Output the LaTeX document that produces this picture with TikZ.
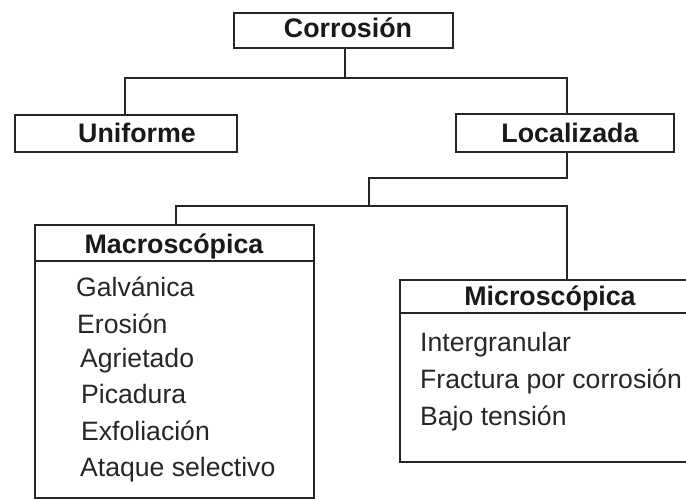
\documentclass[tikz,border=0pt]{standalone}
\usepackage{fontspec}
\setmainfont{Liberation Sans}
\begin{document}
\begin{tikzpicture}[x=1pt,y=-1pt,
  line/.style={draw=black!85,line width=2.2pt},
  boxline/.style={draw=black!85,line width=2.2pt},
  title/.style={font=\fontsize{26.8}{30}\selectfont\bfseries,inner sep=0pt,anchor=base,text=black!90},
  item/.style={font=\fontsize{26.6}{30}\selectfont,inner sep=0pt,anchor=base west,text=black!85}]
\useasboundingbox (0,0) rectangle (686,500);
\clip (0,0) rectangle (686,500);
% boxes
\draw[boxline] (234,13) rectangle (453,48);
\draw[boxline] (15,115) rectangle (237,152);
\draw[boxline] (456,114) rectangle (674,152);
\draw[boxline] (35,225) rectangle (314,498);
\draw[boxline] (35,261) -- (314,261);
\draw[boxline] (690,280) -- (400,280) -- (400,462) -- (690,462);
\draw[boxline] (400,313) -- (690,313);
% titles
\node[title] (corr) at (348,38) {Corrosión};
\node[title] (unif) at (137,143) {Uniforme};
\node[title] (loc) at (570,143) {Localizada};
\node[title] (mac) at (174,254) {Macroscópica};
\node[title] (mic) at (550,305) {Microscópica};
% connector points
\coordinate (c0) at (345,48);
\coordinate (c1) at (345,78);
\coordinate (u0) at (125,78);
\coordinate (u1) at (125,115);
\coordinate (l0) at (567,78);
\coordinate (l1) at (567,114);
\coordinate (l2) at (567,152);
\coordinate (l3) at (567,178);
\coordinate (l4) at (369,178);
\coordinate (l5) at (369,206);
\coordinate (m0) at (176,206);
\coordinate (m1) at (176,225);
\coordinate (n0) at (567,206);
\coordinate (n1) at (567,280);
\draw[line] (c0) -- (c1);
\draw[line] (u1) -- (u0) -- (l0) -- (l1);
\draw[line] (l2) -- (l3) -- (l4) -- (l5);
\draw[line] (m1) -- (m0) -- (n0) -- (n1);
% items
\node[item] (g1) at (76,296) {Galvánica};
\node[item] (g2) at (77,333) {Erosión};
\node[item] (g3) at (80,367) {Agrietado};
\node[item] (g4) at (81,403) {Picadura};
\node[item] (g5) at (81,440) {Exfoliación};
\node[item] (g6) at (80,476) {Ataque selectivo};
\node[item] (h1) at (420,351) {Intergranular};
\node[item] (h2) at (420,388) {Fractura por corrosión};
\node[item] (h3) at (420,425) {Bajo tensión};
\end{tikzpicture}
\end{document}
